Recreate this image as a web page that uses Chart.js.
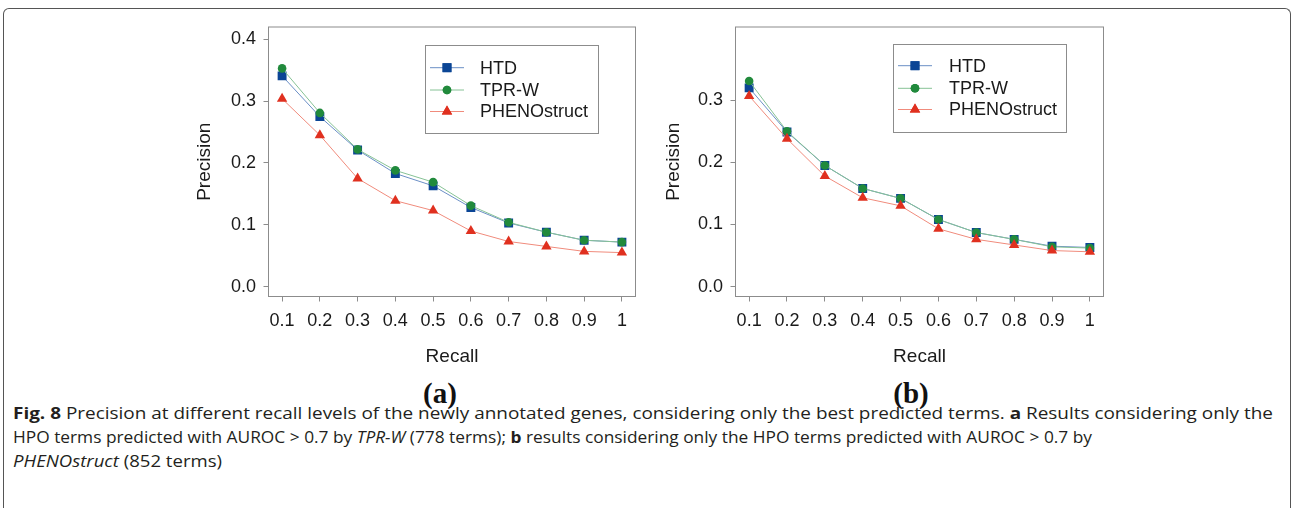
<!DOCTYPE html>
<html>
<head>
<meta charset="utf-8">
<script src="https://cdn.jsdelivr.net/npm/chart.js@4.4.1/dist/chart.umd.min.js"></script>
<style>
  html, body { margin: 0; padding: 0; background: #fff; width: 1294px; height: 508px; overflow: hidden; }
  .frame { position: absolute; left: 3px; top: 8px; width: 1286px; height: 600px;
           border: 1px solid #555; border-bottom: none; border-radius: 6px 6px 0 0; }
  canvas { position: absolute; top: 0; }
  .panel { position: absolute; font: bold 29px "Liberation Serif", "DejaVu Serif", serif; color: #111;
           transform: translate(-50%, -50%); white-space: nowrap; }
  .cap { position: absolute; left: 13px; font: 16.5px "Open Sans", "Noto Sans", sans-serif; color: #231f20;
         line-height: 24px; white-space: nowrap; transform-origin: 0 50%; }
</style>
</head>
<body>
<div class="frame"></div>
<canvas id="chartA" width="490" height="370" style="left:160px;width:490px;height:370px"></canvas>
<canvas id="chartB" width="490" height="370" style="left:627px;width:490px;height:370px"></canvas>
<div class="panel" style="left:440px;top:393px">(a)</div>
<div class="panel" style="left:911px;top:393px">(b)</div>
<div class="cap" id="cap1" style="top:401px"><b>Fig. 8</b> Precision at different recall levels of the newly annotated genes, considering only the best predicted terms. <b>a</b> Results considering only the</div>
<div class="cap" id="cap2" style="top:425px">HPO terms predicted with AUROC &gt; 0.7 by <i>TPR-W</i> (778 terms); <b>b</b> results considering only the HPO terms predicted with AUROC &gt; 0.7 by</div>
<div class="cap" id="cap3" style="top:449px"><i>PHENOstruct</i> (852 terms)</div>
<script>
// ---- Data ----
const recall = [0.1, 0.2, 0.3, 0.4, 0.5, 0.6, 0.7, 0.8, 0.9, 1];
const seriesNames = ["HTD", "TPR-W", "PHENOstruct"];

// panel (a): terms with AUROC > 0.7 by TPR-W
const htdA   = [0.341, 0.275, 0.221, 0.183, 0.163, 0.128, 0.103, 0.088, 0.075, 0.072];
const tprwA  = [0.353, 0.281, 0.222, 0.188, 0.169, 0.131, 0.104, 0.088, 0.075, 0.072];
const phenoA = [0.304, 0.245, 0.175, 0.139, 0.123, 0.090, 0.073, 0.065, 0.057, 0.055];

// panel (b): terms with AUROC > 0.7 by PHENOstruct
const htdB   = [0.320, 0.249, 0.195, 0.158, 0.142, 0.108, 0.087, 0.076, 0.065, 0.063];
const tprwB  = [0.331, 0.250, 0.195, 0.158, 0.142, 0.108, 0.087, 0.076, 0.064, 0.062];
const phenoB = [0.307, 0.238, 0.178, 0.143, 0.130, 0.093, 0.076, 0.067, 0.058, 0.056];

const yTicksA = [0, 0.1, 0.2, 0.3, 0.4];
const yTicksB = [0, 0.1, 0.2, 0.3];

// ---- Styles ----
const STYLE = [
  { line: "#6b8fc6", mark: "#0b4595", shape: "rect", r: 6.3 },
  { line: "#86c295", mark: "#218a3c", shape: "circle", r: 4.3 },
  { line: "#f08b7c", mark: "#e0301f", shape: "triangle", r: 6 }
];
const FONT = "Liberation Sans, Arial, Helvetica, sans-serif";

function makeDatasets(values) {
  return values.map((v, i) => ({
    label: seriesNames[i],
    data: recall.map((x, k) => ({ x: x, y: v[k] })),
    borderColor: STYLE[i].line,
    borderWidth: 1,
    pointStyle: STYLE[i].shape,
    pointRadius: STYLE[i].r,
    pointBackgroundColor: STYLE[i].mark,
    pointBorderColor: STYLE[i].mark,
    pointBorderWidth: 0,
    tension: 0,
    order: 2 - i
  }));
}

// box around the plot area + custom legend inside it
const boxLegend = {
  id: "boxLegend",
  afterDraw(chart, args, opts) {
    const { ctx, chartArea: a } = chart;
    ctx.save();
    ctx.strokeStyle = "#8c8c8c";
    ctx.lineWidth = 1;
    ctx.strokeRect(a.left, a.top, a.right - a.left, a.bottom - a.top);

    ctx.strokeStyle = "#8c8c8c";
    ctx.strokeRect(opts.x, opts.y, opts.w, opts.h);
    ctx.font = "18px " + FONT;
    ctx.textBaseline = "middle";
    ctx.fillStyle = "#1a1a1a";
    seriesNames.forEach((name, i) => {
      const y = opts.rows[i];
      ctx.strokeStyle = STYLE[i].line;
      ctx.beginPath();
      ctx.moveTo(opts.lx0, y);
      ctx.lineTo(opts.lx1, y);
      ctx.stroke();
      ctx.fillStyle = STYLE[i].mark;
      Chart.helpers.drawPoint(ctx, { pointStyle: STYLE[i].shape, radius: STYLE[i].r, borderWidth: 0 },
        (opts.lx0 + opts.lx1) / 2, y);
      ctx.fill();
      ctx.fillStyle = "#1a1a1a";
      ctx.fillText(name, opts.tx, y + 1);
    });
    ctx.restore();
  }
};

function makeChart(id, values, yTicks, yMax, titleX, legend) {
  return new Chart(document.getElementById(id), {
    type: "line",
    data: { datasets: makeDatasets(values) },
    plugins: [boxLegend],
    options: {
      responsive: false,
      animation: false,
      layout: { padding: { top: 27, right: legend.padRight, left: 0, bottom: 0 } },
      plugins: {
        legend: { display: false },
        tooltip: { enabled: false },
        boxLegend: legend
      },
      scales: {
        x: {
          type: "linear",
          min: 0.064, max: 1.036,
          afterBuildTicks: s => { s.ticks = recall.map(v => ({ value: v })); },
          afterFit: s => { s.height = 73.5; },
          ticks: {
            color: "#1a1a1a", padding: 9,
            font: { family: FONT, size: 18 },
            callback: v => (v === 1 ? "1" : v.toFixed(1))
          },
          grid: { drawOnChartArea: false, drawTicks: true, tickLength: 5, color: "#8c8c8c" },
          border: { display: false },
          title: { display: true, text: "Recall", color: "#1a1a1a",
                   font: { family: FONT, size: 19 }, padding: { top: 0, bottom: 2 } }
        },
        y: {
          min: -0.016, max: yMax,
          afterBuildTicks: s => { s.ticks = yTicks.map(v => ({ value: v })); },
          afterFit: s => { s.width = 108.5; },
          ticks: {
            color: "#1a1a1a", padding: 7.5,
            font: { family: FONT, size: 18 },
            callback: v => v.toFixed(1)
          },
          grid: { drawOnChartArea: false, drawTicks: true, tickLength: 5, color: "#8c8c8c" },
          border: { display: false },
          title: { display: true, text: "Precision", color: "#1a1a1a",
                   font: { family: FONT, size: 19 }, padding: { top: titleX - 11.4, bottom: 0 } }
        }
      }
    }
  });
}

makeChart("chartA", [htdA, tprwA, phenoA], yTicksA, 0.42, 45,
  { x: 265.5, y: 45.5, w: 173, h: 88, rows: [67.7, 90, 111.5], lx0: 270, lx1: 304, tx: 320, padRight: 14.5 });
makeChart("chartB", [htdB, tprwB, phenoB], yTicksB, 0.418, 46.5,
  { x: 266.5, y: 44.5, w: 173, h: 88, rows: [65.7, 88.3, 109.5], lx0: 271, lx1: 305, tx: 322, padRight: 13.5 });

// fit caption lines to the measured widths
[["cap1", 1260], ["cap2", 1079], ["cap3", 209]].forEach(([id, w]) => {
  const el = document.getElementById(id);
  el.style.transform = "scaleX(" + (w / el.getBoundingClientRect().width) + ")";
});
</script>
</body>
</html>
